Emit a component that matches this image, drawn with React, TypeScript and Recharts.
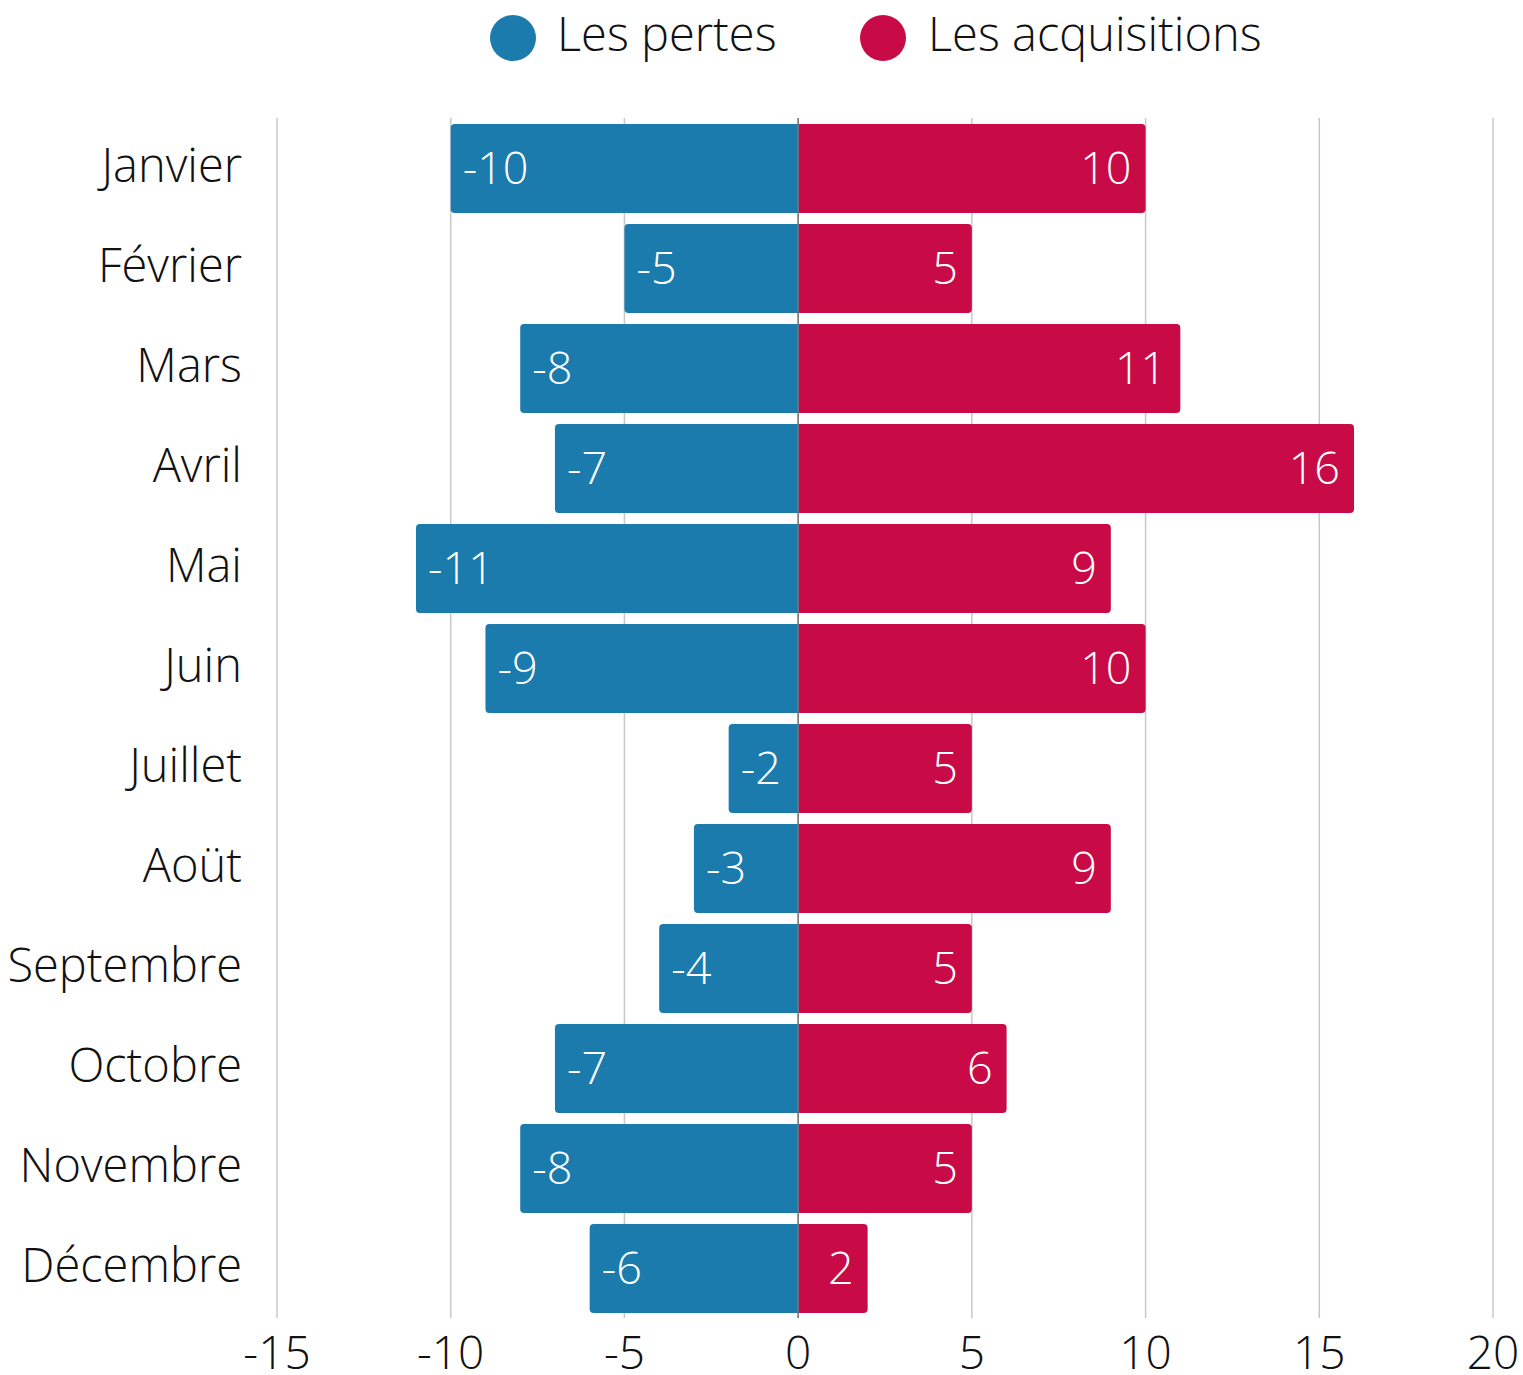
import React from "react";
import {
    BarChart,
    Bar,
    XAxis,
    YAxis,
    CartesianGrid,
    ReferenceLine,
    LabelList,
    Legend,
} from "recharts";

const months = [
    "Janvier",
    "Février",
    "Mars",
    "Avril",
    "Mai",
    "Juin",
    "Juillet",
    "Aoüt",
    "Septembre",
    "Octobre",
    "Novembre",
    "Décembre",
];
const pertes = [-10, -5, -8, -7, -11, -9, -2, -3, -4, -7, -8, -6];
const acquisitions = [10, 5, 11, 16, 9, 10, 5, 9, 5, 6, 5, 2];
const xTicks = [-15, -10, -5, 0, 5, 10, 15, 20];

const BLUE = "#1c7bad";
const RED = "#c80b46";
const FONT = "'Open Sans', sans-serif";

const data = months.map((m, i) => ({
    month: m,
    pertes: pertes[i],
    acquisitions: acquisitions[i],
}));

const LeftLabel = (props: any) => {
    const { x, y, width, height, value } = props;
    const left = Math.min(x, x + width);
    return (
        <text
            x={left + 12}
            y={y + height / 2 - 2}
            fill="#fff"
            fontSize={45}
            fontWeight={300}
            fontFamily={FONT}
            textAnchor="start"
            dominantBaseline="central"
        >
            {value}
        </text>
    );
};

const RightLabel = (props: any) => {
    const { x, y, width, height, value } = props;
    const right = Math.max(x, x + width);
    return (
        <text
            x={right - 14}
            y={y + height / 2 - 2}
            fill="#fff"
            fontSize={45}
            fontWeight={300}
            fontFamily={FONT}
            textAnchor="end"
            dominantBaseline="central"
        >
            {value}
        </text>
    );
};

const LegendContent = () => (
    <svg width={1523} height={80}>
        <circle cx={513} cy={38} r={23} fill={BLUE} />
        <text x={557} y={33} fontSize={47} fontWeight={300} fontFamily={FONT} dominantBaseline="central" fill="#111">
            Les pertes
        </text>
        <circle cx={883} cy={38} r={23} fill={RED} />
        <text x={928} y={33} fontSize={47} fontWeight={300} fontFamily={FONT} dominantBaseline="central" fill="#111">
            Les acquisitions
        </text>
    </svg>
);

export default function App() {
    return (
        <div style={{ position: "absolute", left: 0, top: 0, width: 1523, height: 1375, background: "#fff" }}>
            <BarChart
                width={1523}
                height={1375}
                data={data}
                layout="vertical"
                stackOffset="sign"
                margin={{ top: 118, right: 30, bottom: 1, left: 0 }}
            >
                <CartesianGrid horizontal={false} stroke="#c8c8c8" strokeWidth={1.5} />
                <XAxis
                    type="number"
                    domain={[-15, 20]}
                    ticks={xTicks}
                    axisLine={false}
                    tickLine={false}
                    tickSize={0}
                    tickMargin={18}
                    height={56}
                    tick={{ fontSize: 46, fontWeight: 300, fontFamily: FONT, fill: "#111" }}
                />
                <YAxis
                    type="category"
                    dataKey="month"
                    width={277}
                    axisLine={false}
                    tickLine={false}
                    tickSize={0}
                    tickMargin={35}
                    interval={0}
                    tick={{ fontSize: 47, fontWeight: 300, fontFamily: FONT, fill: "#111", dy: -3 }}
                />
                <Legend
                    layout="horizontal"
                    verticalAlign="middle"
                    align="center"
                    content={<LegendContent />}
                    wrapperStyle={{ top: 0, left: 0, width: 1523 }}
                />
                <ReferenceLine x={0} stroke="#777" strokeWidth={1.5} />
                <Bar dataKey="pertes" stackId="a" fill={BLUE} barSize={89} radius={[0, 4, 4, 0]} isAnimationActive={false}>
                    <LabelList dataKey="pertes" content={<LeftLabel />} />
                </Bar>
                <Bar dataKey="acquisitions" stackId="a" fill={RED} barSize={89} radius={[0, 4, 4, 0]} isAnimationActive={false}>
                    <LabelList dataKey="acquisitions" content={<RightLabel />} />
                </Bar>
            </BarChart>
        </div>
    );
}
